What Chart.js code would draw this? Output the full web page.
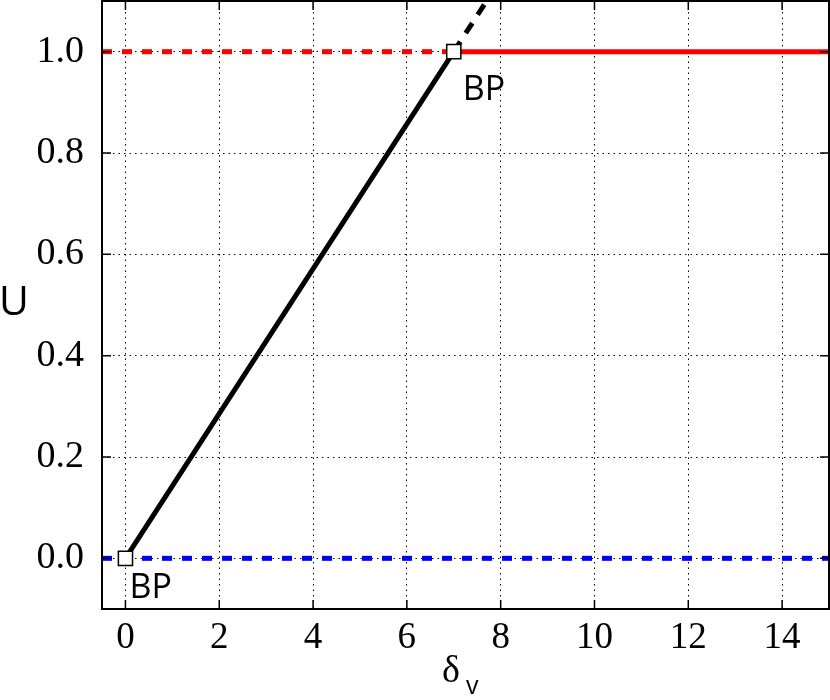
<!DOCTYPE html>
<html>
<head>
<meta charset="utf-8">
<script src="https://cdn.jsdelivr.net/npm/chart.js@4"></script>
<style>
body{margin:0;background:#fff;}
#box{width:830px;height:700px;}
</style>
</head>
<body>
<div id="box"><canvas id="c"></canvas></div>
<script>
/* DADOS */
const xTicks=[0,2,4,6,8,10,12,14];
const yTicks=[0,0.2,0.4,0.6,0.8,1.0];

const blueX=[-0.5,15], blueY=[0,0];
const redDashX=[-0.5,7], redDashY=[1,1];
const redX=[7,15], redY=[1,1];
const blackX=[0,7], blackY=[0,1];
const blackDashX=[7,7.7], blackDashY=[1,1.1];
const bpX=[0,7], bpY=[0,1];
const bpLabels=['BP','BP'];

function pts(xs,ys){return xs.map((x,i)=>({x:x,y:ys[i]}));}

function linha(xs,ys,cor,dash){
return {data:pts(xs,ys),showLine:true,borderColor:cor,borderWidth:5,
borderDash:dash||[],pointRadius:0,borderCapStyle:'butt'};
}

function semPad(s){
s.paddingTop=0;s.paddingBottom=0;s.paddingLeft=0;s.paddingRight=0;
}

/* MOLDURA + TEXTOS */
const extras={
id:'extras',
afterDatasetsDraw(ch){
const c=ch.ctx,a=ch.chartArea,sx=ch.scales.x,sy=ch.scales.y;
c.save();
c.strokeStyle='#000';c.lineWidth=2;
c.strokeRect(a.left,a.top,a.right-a.left,a.bottom-a.top);
c.lineWidth=1.5;
c.beginPath();
xTicks.forEach(v=>{
let p=sx.getPixelForValue(v);
c.moveTo(p,a.bottom);c.lineTo(p,a.bottom-9);
c.moveTo(p,a.top);c.lineTo(p,a.top+9);
});
yTicks.forEach(v=>{
let p=sy.getPixelForValue(v);
c.moveTo(a.left,p);c.lineTo(a.left+9,p);
c.moveTo(a.right,p);c.lineTo(a.right-9,p);
});
c.stroke();

/* BP */
c.fillStyle='#000';
c.font='34px "Open Sans"';
c.textBaseline='alphabetic';
c.textAlign='left';
const off=[[4,40],[9,48]];
bpX.forEach((x,i)=>{
let px=sx.getPixelForValue(x),py=sy.getPixelForValue(bpY[i]);
c.fillText(bpLabels[i],px+off[i][0],py+off[i][1]);
});

/* titulos */
c.font='41px "Open Sans"';
c.textAlign='center';
c.fillText('U',14,315);
c.font='38px "Liberation Serif"';
c.textAlign='left';
c.fillText('δ',442,682);
c.font='25px "Open Sans"';
c.fillText('v',466,694);
c.restore();
}
};

new Chart(document.getElementById('c'),{
type:'scatter',
data:{datasets:[
{data:pts(bpX,bpY),pointStyle:'rect',pointRadius:10,pointBackgroundColor:'#fff',
pointBorderColor:'#000',pointBorderWidth:1.5,showLine:false,clip:false},
linha(blackX,blackY,'#000'),
linha(blackDashX,blackDashY,'#000',[12,10]),
linha(redX,redY,'#ff0000'),
linha(redDashX,redDashY,'#ff0000',[10,10]),
linha(blueX,blueY,'#0000ff',[10,10])
]},
options:{
responsive:true,maintainAspectRatio:false,animation:false,
layout:{autoPadding:false,padding:{top:1,right:1,left:0,bottom:0}},
plugins:{legend:{display:false},tooltip:{enabled:false}},
scales:{
x:{type:'linear',min:-0.5,max:15,
afterBuildTicks:s=>{s.ticks=xTicks.map(v=>({value:v}));},
afterFit:s=>{s.height=91;semPad(s);},
grid:{color:'#000',lineWidth:1,drawTicks:false},
border:{display:false,dash:[1.5,4]},
ticks:{padding:7,color:'#000',font:{family:'Liberation Serif',size:37},
callback:v=>String(v)}},
y:{type:'linear',min:-0.1,max:1.1,
afterBuildTicks:s=>{s.ticks=yTicks.map(v=>({value:v}));},
afterFit:s=>{s.width=102;semPad(s);},
grid:{color:'#000',lineWidth:1,drawTicks:false},
border:{display:false,dash:[1.5,4]},
ticks:{padding:18,color:'#000',font:{family:'Liberation Serif',size:38},
callback:v=>v.toFixed(1)}}
}
},
plugins:[extras]
});
</script>
</body>
</html>
